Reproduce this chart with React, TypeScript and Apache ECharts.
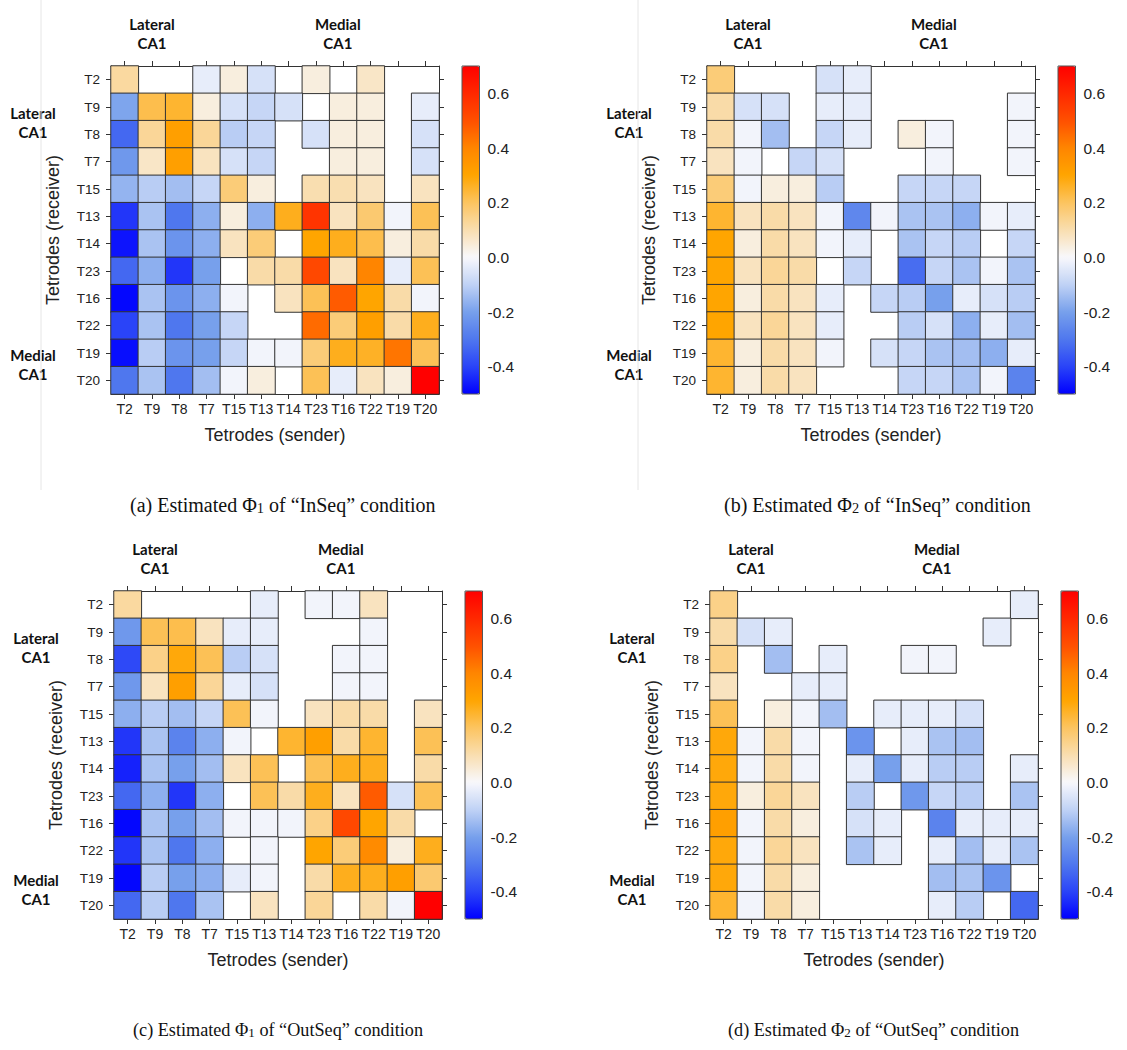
import React, { useEffect, useRef } from 'react';
import * as echarts from 'echarts';

// ---------- data ----------
const tetrodes = ['T2', 'T9', 'T8', 'T7', 'T15', 'T13', 'T14', 'T23', 'T16', 'T22', 'T19', 'T20'];
const colorbarTicks = [-0.4, -0.2, 0, 0.2, 0.4, 0.6];
const scaleMin = -0.5;
const scaleMax = 0.7;
// colour stops every 0.1 from -0.5 to 0.7
const palette = [
  '#0000ff', '#2a44f8', '#4f77ee', '#77a0ec', '#c0d2f5', '#f8f8fc',
  '#f9deb0', '#fcc460', '#ffa500', '#ff8500', '#ff5000', '#ff2800', '#ff0000',
];

const N = null;
// rows = receiver, columns = sender (both in tetrodes order)
const phi1InSeq = [
  [0.12, N, N, -0.03, 0.04, -0.06, N, 0.04, N, 0.07, N, N],
  [-0.19, 0.22, 0.25, 0.04, -0.06, -0.09, -0.06, N, 0.04, 0.04, N, -0.03],
  [-0.33, 0.13, 0.32, 0.13, -0.11, -0.09, N, -0.06, 0.04, 0.04, N, -0.06],
  [-0.22, 0.07, 0.32, 0.08, -0.06, -0.09, N, N, 0.04, 0.04, N, -0.06],
  [-0.16, -0.11, -0.14, -0.09, 0.17, 0.04, N, 0.1, 0.1, 0.08, N, 0.08],
  [-0.42, -0.13, -0.3, -0.17, 0.04, -0.17, 0.27, 0.57, 0.08, 0.18, -0.01, 0.21],
  [-0.47, -0.13, -0.23, -0.17, 0.08, 0.17, N, 0.3, 0.27, 0.22, 0.04, 0.11],
  [-0.33, -0.17, -0.42, -0.2, N, 0.11, 0.11, 0.52, 0.08, 0.4, -0.03, 0.21],
  [-0.49, -0.13, -0.23, -0.17, -0.01, N, 0.08, 0.21, 0.48, 0.3, 0.11, -0.01],
  [-0.4, -0.13, -0.3, -0.2, -0.09, N, N, 0.45, 0.17, 0.32, 0.11, 0.27],
  [-0.48, -0.11, -0.23, -0.2, -0.09, -0.01, -0.01, 0.17, 0.27, 0.26, 0.43, 0.21],
  [-0.3, -0.13, -0.3, -0.14, -0.01, 0.04, N, 0.21, -0.03, 0.08, 0.04, 0.7],
];

const phi2InSeq = [
  [0.17, N, N, N, -0.06, -0.03, N, N, N, N, N, N],
  [0.11, -0.06, -0.06, N, -0.03, -0.03, N, N, N, N, N, -0.01],
  [0.11, -0.01, -0.14, N, -0.09, -0.03, N, 0.04, -0.01, N, N, -0.01],
  [0.08, -0.01, N, -0.09, -0.06, N, N, N, -0.01, N, N, -0.01],
  [0.17, -0.01, 0.04, 0.04, -0.11, N, N, -0.09, -0.09, -0.09, N, N],
  [0.25, 0.08, 0.11, 0.08, -0.01, -0.26, -0.01, -0.13, -0.13, -0.17, -0.01, -0.03],
  [0.3, 0.04, 0.11, 0.08, -0.01, -0.03, N, -0.13, -0.09, -0.11, N, -0.09],
  [0.3, 0.08, 0.13, 0.11, N, -0.09, N, -0.32, -0.09, -0.13, -0.01, -0.13],
  [0.3, 0.04, 0.11, 0.08, -0.03, N, -0.09, -0.11, -0.2, -0.03, -0.06, -0.11],
  [0.3, 0.08, 0.13, 0.08, -0.03, N, N, -0.11, -0.06, -0.17, -0.03, -0.14],
  [0.25, 0.04, 0.11, 0.08, -0.01, N, -0.06, -0.09, -0.13, -0.14, -0.17, -0.03],
  [0.25, 0.04, 0.11, 0.08, N, N, N, -0.09, -0.09, -0.13, -0.01, -0.27],
];

const phi1OutSeq = [
  [0.12, N, N, N, N, -0.03, N, -0.01, -0.01, 0.08, N, N],
  [-0.22, 0.21, 0.22, 0.08, -0.03, -0.03, N, N, N, -0.01, N, N],
  [-0.39, 0.15, 0.29, 0.21, -0.11, -0.06, N, N, -0.01, -0.01, N, N],
  [-0.22, 0.08, 0.32, 0.13, -0.03, -0.06, N, N, -0.01, -0.01, N, N],
  [-0.17, -0.11, -0.14, -0.09, 0.21, -0.01, N, 0.08, 0.11, 0.11, N, 0.08],
  [-0.42, -0.13, -0.27, -0.17, -0.01, N, 0.25, 0.32, 0.11, 0.25, N, 0.21],
  [-0.45, -0.13, -0.2, -0.14, 0.08, 0.21, N, 0.21, 0.27, 0.27, N, 0.11],
  [-0.33, -0.17, -0.42, -0.17, N, 0.21, 0.11, 0.27, 0.08, 0.48, -0.06, 0.21],
  [-0.49, -0.13, -0.2, -0.14, -0.01, -0.01, -0.01, 0.15, 0.52, 0.3, 0.11, N],
  [-0.42, -0.13, -0.3, -0.17, N, -0.01, N, 0.3, 0.17, 0.38, 0.04, 0.27],
  [-0.49, -0.11, -0.2, -0.17, -0.03, -0.01, N, 0.11, 0.27, 0.27, 0.32, 0.18],
  [-0.33, -0.11, -0.3, -0.13, N, 0.08, N, 0.13, N, 0.11, -0.01, 0.7],
];

const phi2OutSeq = [
  [0.15, N, N, N, N, N, N, N, N, N, N, -0.03],
  [0.11, -0.06, -0.03, N, N, N, N, N, N, N, -0.03, N],
  [0.15, N, -0.14, N, -0.03, N, N, -0.01, -0.01, N, N, N],
  [0.08, N, N, -0.03, -0.03, N, N, N, N, N, N, N],
  [0.21, N, 0.04, -0.01, -0.14, N, -0.03, -0.03, -0.03, -0.06, N, N],
  [0.29, -0.01, 0.11, -0.01, N, -0.23, N, -0.03, -0.13, -0.14, N, N],
  [0.29, -0.01, 0.11, -0.01, N, -0.03, -0.2, -0.03, -0.11, -0.11, N, -0.03],
  [0.29, 0.04, 0.13, 0.08, N, -0.11, N, -0.22, -0.09, -0.11, N, -0.13],
  [0.32, -0.01, 0.11, 0.04, N, -0.06, -0.03, N, -0.27, -0.03, -0.03, -0.03],
  [0.29, -0.01, 0.13, 0.08, N, -0.13, -0.03, N, -0.03, -0.14, -0.03, -0.13],
  [0.29, -0.01, 0.11, 0.04, N, N, N, N, -0.14, -0.13, -0.23, N],
  [0.25, -0.01, 0.11, 0.04, N, N, N, N, -0.03, -0.11, N, -0.33],
];

const captions = [
  ['(a) Estimated Φ', '1', ' of “InSeq” condition'],
  ['(b) Estimated Φ', '2', ' of “InSeq” condition'],
  ['(c) Estimated Φ', '1', ' of “OutSeq” condition'],
  ['(d) Estimated Φ', '2', ' of “OutSeq” condition'],
];

// ---------- layout ----------
const GRID = 328;
const CB_W = 17.5;
const panelLayout = [
  { data: phi1InSeq, left: 111, top: 66, capX: 130, capY: 505, capSize: 20 },
  { data: phi2InSeq, left: 707, top: 66, capX: 724, capY: 505, capSize: 20 },
  { data: phi1OutSeq, left: 114, top: 591, capX: 133, capY: 1030, capSize: 18.2 },
  { data: phi2OutSeq, left: 710, top: 591, capX: 728, capY: 1030, capSize: 18.2 },
];

const SANS = 'Liberation Sans, Arial, sans-serif';
const SERIF = 'Liberation Serif, Times New Roman, serif';
const TXT = '#222';
const LINE = '#333';

function buildOption() {
  const grid: any[] = [];
  const xAxis: any[] = [];
  const yAxis: any[] = [];
  const series: any[] = [];
  const visualMap: any[] = [];
  const graphic: any[] = [];

  panelLayout.forEach((p, i) => {
    grid.push({ left: p.left, top: p.top, width: GRID, height: GRID });
    const catBase = {
      type: 'category',
      data: tetrodes,
      gridIndex: i,
      axisLine: { show: true, onZero: false, lineStyle: { color: LINE, width: 1 } },
      axisTick: { show: true, alignWithLabel: true, length: 5, lineStyle: { color: LINE } },
      splitLine: { show: false },
    };
    xAxis.push({
      ...catBase,
      position: 'bottom',
      axisLabel: { fontFamily: SANS, fontSize: 14, color: TXT, margin: 8, interval: 0 },
      name: 'Tetrodes (sender)',
      nameLocation: 'middle',
      nameGap: 32,
      nameTextStyle: { fontFamily: SANS, fontSize: 18, color: TXT },
    });
    xAxis.push({ ...catBase, position: 'top', axisLabel: { show: false } });
    yAxis.push({
      ...catBase,
      inverse: true,
      position: 'left',
      axisLabel: { fontFamily: SANS, fontSize: 13.5, color: TXT, margin: 11, interval: 0 },
      name: 'Tetrodes (receiver)',
      nameLocation: 'middle',
      nameGap: 49,
      nameTextStyle: { fontFamily: SANS, fontSize: 18, color: TXT },
    });
    yAxis.push({ ...catBase, inverse: true, position: 'right', axisLabel: { show: false } });

    const cells: any[] = [];
    p.data.forEach((row, r) => {
      row.forEach((v, c) => {
        if (v !== null) cells.push([c, r, v]);
      });
    });
    series.push({
      type: 'heatmap',
      xAxisIndex: 2 * i,
      yAxisIndex: 2 * i,
      data: cells,
      itemStyle: { borderColor: LINE, borderWidth: 1 },
      emphasis: { disabled: true },
      silent: true,
    });

    const cbLeft = p.left + GRID + 23;
    visualMap.push({
      type: 'continuous',
      seriesIndex: i,
      min: scaleMin,
      max: scaleMax,
      calculable: false,
      orient: 'vertical',
      left: cbLeft,
      top: p.top,
      padding: 0,
      itemWidth: CB_W,
      itemHeight: GRID,
      hoverLink: false,
      inRange: { color: palette },
    });
    graphic.push({
      type: 'rect',
      shape: { x: cbLeft, y: p.top, width: CB_W, height: GRID },
      style: { fill: 'none', stroke: '#555', lineWidth: 1 },
      silent: true,
      z: 100,
    });
  });

  // colour bar tick axes
  panelLayout.forEach((p, i) => {
    const cbLeft = p.left + GRID + 23;
    grid.push({ left: cbLeft, top: p.top, width: CB_W, height: GRID });
    xAxis.push({ type: 'value', gridIndex: 4 + i, min: 0, max: 1, show: false });
    yAxis.push({
      type: 'value',
      gridIndex: 4 + i,
      min: scaleMin,
      max: scaleMax,
      position: 'right',
      axisLine: { show: false },
      splitLine: { show: false },
      axisTick: { show: true, length: 5, customValues: colorbarTicks, lineStyle: { color: LINE } },
      axisLabel: {
        customValues: colorbarTicks,
        formatter: (v: number) => (Math.abs(v) < 1e-9 ? '0.0' : v.toFixed(1)),
        fontFamily: SANS,
        fontSize: 15.5,
        color: TXT,
        margin: 8,
      },
    });
  });

  // region labels, captions, faint separators
  const regionStyle = {
    fontFamily: 'Lato, Liberation Sans, sans-serif',
    fontWeight: 'bold',
    fontSize: 15,
    fill: '#111',
    align: 'center',
    verticalAlign: 'middle',
    lineHeight: 19,
  };
  panelLayout.forEach((p, i) => {
    const cell = GRID / 12;
    graphic.push({ type: 'text', x: p.left + cell * 1.5, y: p.top - 33, style: { ...regionStyle, text: 'Lateral\nCA1' } });
    graphic.push({ type: 'text', x: p.left + cell * 8.3, y: p.top - 33, style: { ...regionStyle, text: 'Medial\nCA1' } });
    graphic.push({ type: 'text', x: p.left - 78, y: p.top + 56, style: { ...regionStyle, text: 'Lateral\nCA1' } });
    graphic.push({ type: 'text', x: p.left - 78, y: p.top + 298.5, style: { ...regionStyle, text: 'Medial\nCA1' } });
    const cap = captions[i];
    graphic.push({
      type: 'text',
      x: p.capX,
      y: p.capY,
      style: {
        text: `{m|${cap[0]}}{s|${cap[1]}}{m|${cap[2]}}`,
        align: 'left',
        verticalAlign: 'middle',
        rich: {
          m: { fontFamily: SERIF, fontSize: p.capSize, fill: '#111', color: '#111' },
          s: { fontFamily: SERIF, fontSize: p.capSize * 0.72, fill: '#111', color: '#111', verticalAlign: 'bottom' },
        },
      },
    });
  });
  graphic.push({ type: 'line', shape: { x1: 41, y1: 0, x2: 41, y2: 490 }, style: { stroke: '#e6e6e6', lineWidth: 1 }, silent: true });
  graphic.push({ type: 'line', shape: { x1: 638, y1: 0, x2: 638, y2: 490 }, style: { stroke: '#e6e6e6', lineWidth: 1 }, silent: true });

  return {
    animation: false,
    backgroundColor: '#ffffff',
    grid,
    xAxis,
    yAxis,
    visualMap,
    series,
    graphic,
  };
}

export default function App() {
  const ref = useRef<HTMLDivElement>(null);
  useEffect(() => {
    if (!ref.current) return;
    const chart = echarts.init(ref.current, undefined, { renderer: 'svg' });
    chart.setOption(buildOption() as any);
    return () => chart.dispose();
  }, []);
  return (
    <div
      ref={ref}
      style={{ position: 'absolute', left: 0, top: 0, width: 1127, height: 1050, background: '#fff' }}
    />
  );
}
